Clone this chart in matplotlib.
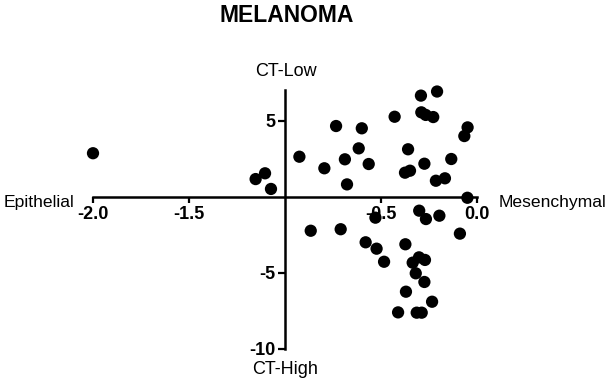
import matplotlib
matplotlib.use("Agg")
import matplotlib.pyplot as plt

plt.rcParams['font.family'] = ['Liberation Sans', 'DejaVu Sans']

# EMT score (x) vs CT score (y)
emt_score = [-2.000, -0.925, -1.104, -1.153, -1.073, -0.734, -0.600, -0.616, -0.688, -0.795,
             -0.564, -0.677, -0.429, -0.292, -0.208, -0.290, -0.267, -0.228, -0.359, -0.375,
             -0.349, -0.274, -0.134, -0.214, -0.167, -0.049, -0.066, -0.050, -0.529, -0.301,
             -0.266, -0.196, -0.866, -0.710, -0.089, -0.580, -0.523, -0.373, -0.484, -0.335,
             -0.302, -0.271, -0.319, -0.274, -0.370, -0.234, -0.411, -0.314, -0.288]
ct_score = [2.86, 2.63, 1.54, 1.16, 0.51, 4.65, 4.50, 3.18, 2.46, 1.87,
            2.15, 0.81, 5.26, 6.65, 6.92, 5.55, 5.38, 5.24, 3.12, 1.58,
            1.71, 2.17, 2.48, 1.05, 1.21, 4.56, 3.99, -0.07, -1.38, -0.92,
            -1.47, -1.25, -2.24, -2.14, -2.43, -3.00, -3.42, -3.13, -4.28, -4.34,
            -3.99, -4.16, -5.04, -5.61, -6.25, -6.91, -7.61, -7.63, -7.63]

x_ticks = [-2.0, -1.5, -0.5, 0.0]
x_tick_labels = ['-2.0', '-1.5', '-0.5', '0.0']
y_ticks = [-10, -5, 5]
y_tick_labels = ['-10', '-5', '5']

W, H = 608, 379
fig = plt.figure(figsize=(W / 100, H / 100), dpi=100)
ax = fig.add_axes([93 / W, 1 - 348.7 / H, 384 / W, (348.7 - 90.3) / H])
ax.set_xlim(-2.0, 0.0)
ax.set_ylim(-10, 7)

ax.scatter(emt_score, ct_score, s=78, color='black', edgecolors='none', clip_on=False, zorder=3)

for s in ['top', 'right']:
    ax.spines[s].set_visible(False)
ax.spines['left'].set_position(('data', -1.0))
ax.spines['bottom'].set_position(('data', 0.0))
ax.spines['left'].set_linewidth(1.8)
ax.spines['bottom'].set_linewidth(1.8)

ax.set_xticks(x_ticks)
ax.set_xticklabels(x_tick_labels, fontweight='bold', fontsize=13)
ax.set_yticks(y_ticks)
ax.set_yticklabels(y_tick_labels, fontweight='bold', fontsize=13)
ax.tick_params(axis='x', direction='out', length=4, width=1.6, pad=3)
ax.tick_params(axis='y', direction='out', length=5, width=1.6, pad=2)
ax.patch.set_visible(False)

fig.text(286.5 / W, 1 - 15 / H, 'MELANOMA', ha='center', va='center', fontsize=16.5, fontweight='bold')
fig.text(286 / W, 1 - 72 / H, 'CT-Low', ha='center', va='center', fontsize=13)
fig.text(285 / W, 1 - 369 / H, 'CT-High', ha='center', va='center', fontsize=13)
fig.text(4 / W, 1 - 203 / H, 'Epithelial', ha='left', va='center', fontsize=12.6)
fig.text(499 / W, 1 - 203 / H, 'Mesenchymal', ha='left', va='center', fontsize=12.6)

fig.savefig('out.png', dpi=100)
